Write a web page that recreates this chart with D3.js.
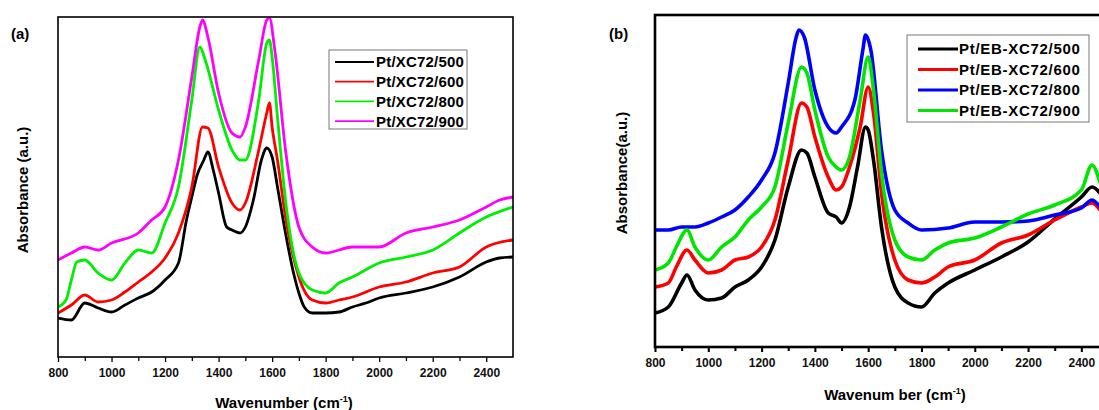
<!DOCTYPE html>
<html>
<head>
<meta charset="utf-8">
<script src="https://d3js.org/d3.v7.min.js"></script>
<style>
  body { margin: 0; background: #fff; }
  svg { display: block; font-family: "Liberation Sans", Arial, sans-serif; font-weight: bold; }
</style>
</head>
<body>
<svg id="chart" width="1099" height="410"></svg>
<script>
// ---- data (wavenumber cm-1, absorbance a.u.) ----
var majorTicks = [800, 1000, 1200, 1400, 1600, 1800, 2000, 2200, 2400];
var minorTicks = [900, 1100, 1300, 1500, 1700, 1900, 2100, 2300];

var labelsA = ["Pt/XC72/500", "Pt/XC72/600", "Pt/XC72/800", "Pt/XC72/900"];
var colorsA = ["#000000", "#ff0000", "#00ee00", "#ff00ff"];

var a500 = [[800,39],[850,37],[900,54],[950,49],[1000,45],[1050,52],[1100,59],[1150,65],[1200,77],[1250,94],[1280,137],[1300,160],[1320,182],[1345,197],[1360,205],[1380,187],[1400,164],[1430,130],[1450,127],[1480,124],[1500,130],[1530,157],[1560,197],[1580,209],[1600,200],[1620,170],[1650,124],[1680,84],[1700,64],[1720,50],[1750,44],[1800,44],[1850,45],[1900,50],[1950,54],[2000,59],[2100,64],[2200,70],[2300,80],[2400,95],[2450,99],[2500,100]];
var a600 = [[800,44],[850,52],[900,62],[950,55],[1000,57],[1050,65],[1100,75],[1150,85],[1200,99],[1250,124],[1300,170],[1340,230],[1360,229],[1400,190],[1450,154],[1480,147],[1500,154],[1550,207],[1580,244],[1590,254],[1600,230],[1620,197],[1650,140],[1700,80],[1750,57],[1800,54],[1850,57],[1900,60],[2000,70],[2100,75],[2200,84],[2300,90],[2400,110],[2500,117]];
var a800 = [[800,50],[830,57],[850,77],[870,95],[900,97],[950,84],[1000,77],[1050,94],[1100,107],[1150,104],[1200,134],[1250,170],[1300,257],[1330,310],[1350,297],[1400,247],[1450,207],[1480,197],[1500,197],[1550,257],[1580,314],[1590,317],[1600,300],[1620,240],[1650,157],[1700,84],[1750,67],[1800,64],[1850,74],[1900,80],[2000,94],[2100,100],[2200,107],[2300,124],[2400,140],[2500,150]];
var a900 = [[800,97],[850,104],[900,110],[950,107],[1000,114],[1100,124],[1150,137],[1200,150],[1250,197],[1300,280],[1330,330],[1340,337],[1360,320],[1400,264],[1450,224],[1480,220],[1500,230],[1550,297],[1580,337],[1590,339],[1610,307],[1650,207],[1700,130],[1750,110],[1800,104],[1900,110],[2000,110],[2100,124],[2200,130],[2300,137],[2400,150],[2450,157],[2500,160]];

var labelsB = ["Pt/EB-XC72/500", "Pt/EB-XC72/600", "Pt/EB-XC72/800", "Pt/EB-XC72/900"];
var colorsB = ["#000000", "#ff0000", "#0000ff", "#00e600"];

var b500 = [[800,34],[850,40],[900,64],[920,72],[950,57],[1000,47],[1050,49],[1100,60],[1150,67],[1200,80],[1250,107],[1300,160],[1350,197],[1370,194],[1400,170],[1450,134],[1480,130],[1500,124],[1530,140],[1560,180],[1590,220],[1600,217],[1620,187],[1650,120],[1700,60],[1750,44],[1800,40],[1850,54],[1900,64],[2000,77],[2100,90],[2200,105],[2300,128],[2400,150],[2440,160],[2470,154]];
var b600 = [[800,60],[850,64],[880,80],[920,97],[950,87],[1000,74],[1050,77],[1100,87],[1150,90],[1200,100],[1250,127],[1300,187],[1350,244],[1370,240],[1400,210],[1450,170],[1480,157],[1500,160],[1530,180],[1570,220],[1600,260],[1620,234],[1650,154],[1700,87],[1750,67],[1800,64],[1850,70],[1900,80],[2000,87],[2100,104],[2200,112],[2300,127],[2400,140],[2440,144],[2470,137]];
var b800 = [[800,117],[850,117],[900,120],[950,120],[1000,124],[1050,130],[1100,137],[1150,150],[1200,167],[1250,194],[1300,264],[1330,310],[1340,317],[1360,310],[1400,257],[1450,220],[1480,214],[1500,220],[1550,247],[1580,297],[1590,312],[1610,297],[1650,197],[1700,137],[1750,124],[1800,117],[1900,119],[2000,125],[2100,125],[2200,126],[2300,132],[2400,139],[2440,147],[2470,140]];
var b900 = [[800,77],[850,84],[880,100],[920,117],[950,100],[1000,87],[1050,100],[1100,110],[1150,127],[1200,140],[1250,160],[1300,224],[1350,280],[1370,274],[1400,237],[1450,190],[1480,180],[1500,177],[1530,190],[1570,247],[1600,290],[1620,257],[1650,174],[1700,107],[1750,90],[1800,87],[1850,97],[1900,104],[2000,109],[2100,120],[2200,133],[2300,142],[2400,157],[2440,182],[2470,164]];

var svg = d3.select("#chart");

function panel(opt) {
  var g = svg.append("g");
  var x = d3.scaleLinear().domain([800, 2500]).range([opt.left, opt.right]);
  var y = d3.scaleLinear().domain(opt.yDomain).range([opt.bottom, opt.top]);

  var clipId = "clip-" + opt.name;
  svg.append("clipPath").attr("id", clipId)
    .append("rect").attr("x", opt.left).attr("y", opt.top)
    .attr("width", opt.right - opt.left).attr("height", opt.bottom - opt.top);

  var line = d3.line().x(function(d) { return x(d[0]); }).y(function(d) { return y(d[1]); })
      .curve(d3.curveMonotoneX);

  g.append("g").attr("clip-path", "url(#" + clipId + ")")
    .selectAll("path").data(opt.series).enter().append("path")
    .attr("d", function(d) { return line(d); })
    .attr("fill", "none")
    .attr("stroke", function(d, i) { return opt.colors[i]; })
    .attr("stroke-width", opt.lineWidth)
    .attr("stroke-linejoin", "round");

  // frame
  g.append("rect").attr("x", opt.left).attr("y", opt.top)
    .attr("width", opt.right - opt.left).attr("height", opt.bottom - opt.top)
    .attr("fill", "none").attr("stroke", "#000").attr("stroke-width", opt.frameWidth);

  // bottom axis
  var ax = g.append("g").attr("transform", "translate(0," + opt.bottom + ")")
    .call(d3.axisBottom(x).tickValues(majorTicks).tickSize(5).tickPadding(6).tickFormat(d3.format("d")));
  ax.select(".domain").remove();
  ax.selectAll("line").attr("stroke-width", opt.frameWidth * 0.8);
  ax.selectAll("text").attr("font-size", 12).attr("font-weight", "bold")
    .attr("font-family", "Liberation Sans, Arial, sans-serif").attr("fill", "#111");
  var am = g.append("g").attr("transform", "translate(0," + opt.bottom + ")")
    .call(d3.axisBottom(x).tickValues(minorTicks).tickSize(4).tickFormat(""));
  am.select(".domain").remove();
  am.selectAll("line").attr("stroke-width", opt.frameWidth * 0.8);

  // axis titles
  var xt = g.append("text").attr("x", opt.xTitleX).attr("y", opt.xTitleY)
    .attr("text-anchor", "middle").attr("font-size", 15).text(opt.xTitle);
  xt.append("tspan").attr("font-size", 9).attr("dy", -6).text("-1");
  xt.append("tspan").attr("dy", 6).text(")");

  g.append("text").attr("transform", "translate(" + opt.yTitleX + "," + opt.yTitleY + ") rotate(-90)")
    .attr("text-anchor", "middle").attr("font-size", 15).text(opt.yTitle);

  g.append("text").attr("x", opt.tagX).attr("y", opt.tagY).attr("font-size", 15).text(opt.tag);

  // legend
  var lg = opt.legend;
  g.append("rect").attr("x", lg.x).attr("y", lg.y).attr("width", lg.w).attr("height", lg.h)
    .attr("fill", "#fff").attr("stroke", "#777").attr("stroke-width", 1);
  var rows = g.selectAll(".lg-" + opt.name).data(opt.labels).enter().append("g")
    .attr("transform", function(d, i) { return "translate(0," + (lg.y0 + i * lg.dy) + ")"; });
  rows.append("line").attr("x1", lg.x1).attr("x2", lg.x2)
    .attr("stroke", function(d, i) { return opt.colors[i]; }).attr("stroke-width", lg.lw);
  rows.append("text").attr("x", lg.tx).attr("dy", "0.36em").attr("font-size", 15)
    .attr("letter-spacing", lg.ls).text(function(d) { return d; });
}

panel({
  name: "a", left: 58, right: 513, top: 17, bottom: 357, yDomain: [0, 340],
  series: [a500, a600, a800, a900], colors: colorsA, labels: labelsA,
  lineWidth: 2.8, frameWidth: 1.6,
  xTitle: "Wavenumber (cm", xTitleX: 284, xTitleY: 408,
  yTitle: "Absorbance (a.u.)", yTitleX: 28, yTitleY: 190,
  tag: "(a)", tagX: 11, tagY: 39,
  legend: { x: 329, y: 50, w: 138, h: 79, y0: 62, dy: 19.7, x1: 335, x2: 374, tx: 376, lw: 1.8, ls: 0.2 }
});

panel({
  name: "b", left: 655, right: 1108, top: 15, bottom: 347, yDomain: [0, 332],
  series: [b500, b600, b800, b900], colors: colorsB, labels: labelsB,
  lineWidth: 3.6, frameWidth: 2.6,
  xTitle: "Wavenum ber (cm", xTitleX: 895, xTitleY: 400,
  yTitle: "Absorbance(a.u.)", yTitleX: 627, yTitleY: 173,
  tag: "(b)", tagX: 609, tagY: 39,
  legend: { x: 907, y: 35, w: 182, h: 87, y0: 49, dy: 20.5, x1: 918, x2: 958, tx: 959, lw: 3, ls: 0.7 }
});
</script>
</body>
</html>
